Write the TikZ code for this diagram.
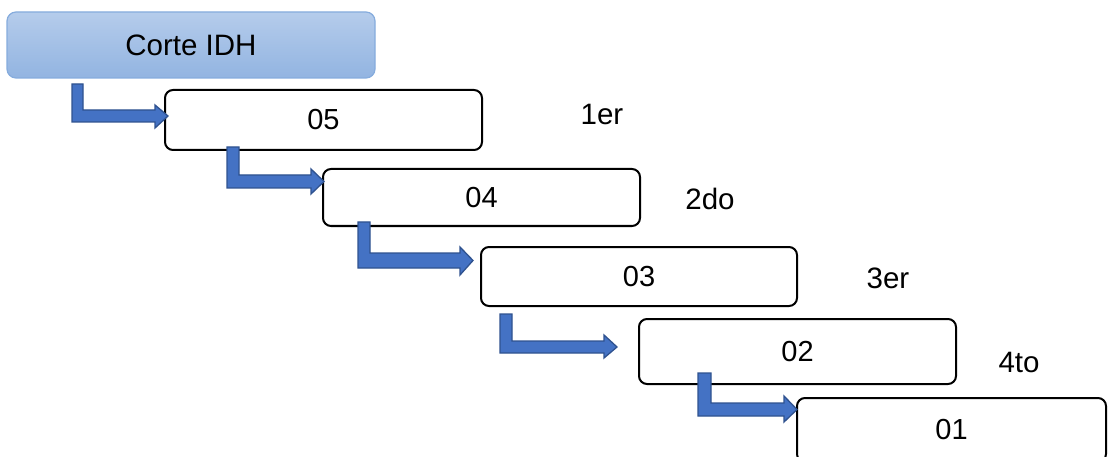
\documentclass[tikz,border=0pt]{standalone}
\usepackage{fontspec}
\setmainfont{Liberation Sans}
\definecolor{arrfill}{HTML}{4472C4}
\definecolor{arrdraw}{HTML}{2F528F}
\definecolor{idhtop}{HTML}{B5CCEB}
\definecolor{idhbot}{HTML}{92B4E1}
\definecolor{idhdraw}{HTML}{86ACDD}
\newcommand{\bentarr}[9]{%
  \filldraw[arrowshape] (#1,#3) -- (#2,#3) -- (#2,#4) -- (#6,#4) -- (#6,#8)
    -- (#7,{(#4+#5)/2}) -- (#6,#9) -- (#6,#5) -- (#1,#5) -- cycle;}
\begin{document}
\begin{tikzpicture}[x=1pt,y=-1pt,
  stepbox/.style={draw=black, line width=2pt, rounded corners=8pt, fill=white,
    inner sep=0pt, font=\fontsize{29}{32}\selectfont},
  headbox/.style={draw=idhdraw, line width=1.2pt, rounded corners=9pt,
    top color=idhtop, bottom color=idhbot, inner sep=0pt,
    minimum width=368pt, minimum height=66pt, font=\fontsize{29.5}{32}\selectfont},
  ordlabel/.style={font=\fontsize{29.5}{32}\selectfont, inner sep=0pt},
  arrowshape/.style={fill=arrfill, draw=arrdraw, line width=1.3pt, line join=miter}]
\clip (0,0) rectangle (1108,457);
\node[headbox] (idh) at (191,45) {Corte IDH};
\node[stepbox, minimum width=317pt, minimum height=60pt] (b05) at (323.5,120) {\raisebox{-1.5pt}{05}};
\node[stepbox, minimum width=317pt, minimum height=57pt] (b04) at (481.5,197.5) {\raisebox{-1.5pt}{04}};
\node[stepbox, minimum width=316pt, minimum height=59pt] (b03) at (639,276.5) {\raisebox{-1.5pt}{03}};
\node[stepbox, minimum width=317pt, minimum height=65pt] (b02) at (797.5,351.5) {02};
\node[stepbox, minimum width=309pt, minimum height=64pt] (b01) at (951.5,430) {01};
\node[ordlabel] (l1) at (602,114) {1er};
\node[ordlabel] (l2) at (710,199) {2do};
\node[ordlabel] (l3) at (888,278) {3er};
\node[ordlabel] (l4) at (1019,362) {4to};
\bentarr{72}{83}{84}{110}{122}{155}{168}{105}{128}
\bentarr{227}{239}{147}{175}{188}{311}{324}{169}{194}
\bentarr{358}{370}{222}{253}{268}{460}{473}{247}{275}
\bentarr{500}{512}{314}{341}{353}{604}{617}{335}{358}
\bentarr{698}{711}{373}{403}{416}{784}{797}{396}{422}
\end{tikzpicture}
\end{document}
